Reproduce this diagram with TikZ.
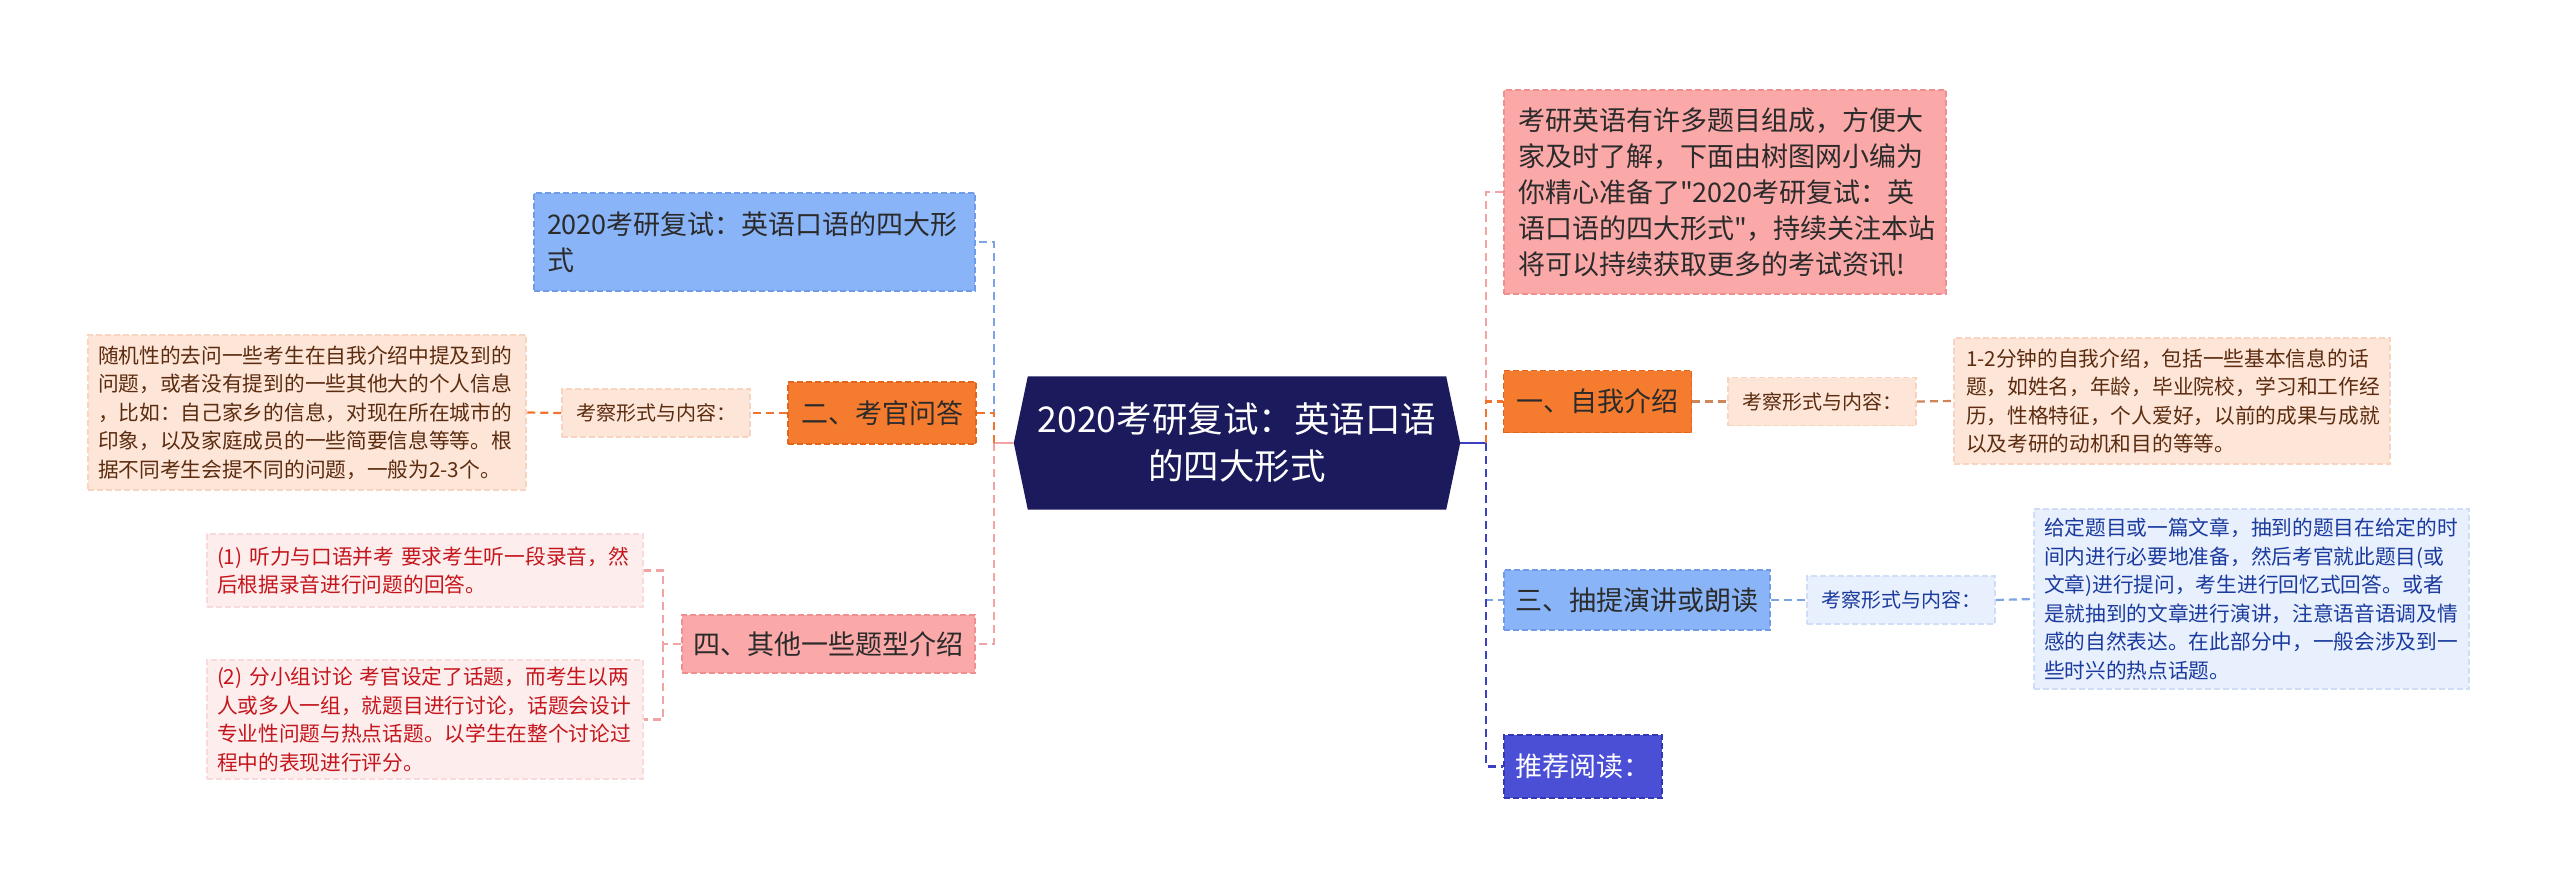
\documentclass[tikz,border=0pt]{standalone}
\usepackage{fontspec}
\setmainfont{Noto Sans CJK SC}[Ligatures=TeXOff]
\usetikzlibrary{backgrounds}
\definecolor{navyF}{HTML}{1B1A5C}
\definecolor{blueF}{HTML}{8AB4F8}
\definecolor{blueD}{HTML}{6F9BE8}
\definecolor{orangeF}{HTML}{F57C2F}
\definecolor{orangeD}{HTML}{E2651C}
\definecolor{pinkF}{HTML}{FAA8A8}
\definecolor{pinkD}{HTML}{F08F8F}
\definecolor{peachF}{HTML}{FDE5D8}
\definecolor{peachD}{HTML}{F8D4C0}
\definecolor{lpinkF}{HTML}{FDEDED}
\definecolor{lpinkD}{HTML}{F8DADA}
\definecolor{lblueF}{HTML}{E8F0FD}
\definecolor{lblueD}{HTML}{D0DDF6}
\definecolor{purpF}{HTML}{4A4FD6}
\definecolor{purpD}{HTML}{3538B4}
\definecolor{darkT}{HTML}{2B2B2B}
\definecolor{brownT}{HTML}{5B2C0F}
\definecolor{redT}{HTML}{C4161C}
\definecolor{blueT}{HTML}{1A3A9E}
\definecolor{cOrange}{HTML}{EE7430}
\definecolor{cBrown}{HTML}{CF8558}
\definecolor{cBlue}{HTML}{7EA2E6}
\definecolor{cPink}{HTML}{F2A3A3}
\definecolor{cPurp}{HTML}{3D3FC2}
\newcommand\fontcenter{\fontsize{35.5}{47}\selectfont}
\newcommand\fontlvl{\fontsize{27}{36}\selectfont}
\newcommand\fontlab{\fontsize{20}{26}\selectfont}
\newcommand\fontdet{\fontsize{20.7}{28.5}\selectfont}
\begin{document}
\begin{tikzpicture}[x=1pt,y=-1pt,
  boxd/.style={draw, dash pattern=on 6pt off 3pt, line width=1.5pt, inner ysep=0pt},
  lvl/.style={boxd, font=\fontlvl, text=darkT, align=center},
  labl/.style={boxd, font=\fontlab, text=brownT, align=center, minimum width=188pt, minimum height=48pt},
  det/.style={boxd, font=\fontdet, align=left, inner xsep=10pt},
  conn/.style={line width=2.2pt, dash pattern=on 8pt off 5pt},
  stub/.style={line width=2.2pt}
]
\useasboundingbox (0,0) rectangle (2560,887);

% center
\node[text=white, font=\fontcenter, align=center, minimum width=446pt, minimum height=133pt, inner sep=0pt] (c) at (1237,443) {2020考研复试：英语口语\\的四大形式};
\begin{pgfonlayer}{background}
\fill[navyF] ([xshift=14pt]c.north west) -- ([xshift=-14pt]c.north east) -- (c.east) -- ([xshift=-14pt]c.south east) -- ([xshift=14pt]c.south west) -- (c.west) -- cycle;
\end{pgfonlayer}

% left side
\node[lvl, fill=blueF, draw=blueD, align=left, text width=415pt, inner xsep=13pt, minimum height=98pt] (nB) at (754.5,242) {2020考研复试：英语口语的四大形\\式};
\node[lvl, fill=orangeF, draw=orangeD, minimum width=188pt, minimum height=62pt, inner xsep=0pt] (n2) at (882,413) {二、考官问答};
\node[labl, fill=peachF, draw=peachD] (k2) at (656,413) {考察形式与内容：};
\node[det, fill=peachF, draw=peachD, text=brownT, text width=418pt, minimum height=155pt] (d2) at (307,412.5) {随机性的去问一些考生在自我介绍中提及到的\\问题，或者没有提到的一些其他大的个人信息\\，比如：自己家乡的信息，对现在所在城市的\\印象，以及家庭成员的一些简要信息等等。根\\据不同考生会提不同的问题，一般为2-3个。};
\node[lvl, fill=pinkF, draw=pinkD, minimum width=293pt, minimum height=58pt, inner xsep=0pt] (n4) at (828.5,644) {四、其他一些题型介绍};
\node[det, fill=lpinkF, draw=lpinkD, text=redT, text width=416pt, minimum height=73pt] (p1) at (425,570.5) {(1) 听力与口语并考 要求考生听一段录音，然\\后根据录音进行问题的回答。};
\node[det, fill=lpinkF, draw=lpinkD, text=redT, text width=416pt, minimum height=119pt] (p2) at (425,719.5) {(2) 分小组讨论 考官设定了话题，而考生以两\\人或多人一组，就题目进行讨论，话题会设计\\专业性问题与热点话题。以学生在整个讨论过\\程中的表现进行评分。};

% right side
\node[lvl, fill=pinkF, draw=pinkD, align=left, text width=414pt, inner xsep=14pt, minimum height=204pt] (t) at (1725,192) {考研英语有许多题目组成，方便大\\家及时了解，下面由树图网小编为\\你精心准备了"2020考研复试：英\\语口语的四大形式"，持续关注本站\\将可以持续获取更多的考试资讯!};
\node[lvl, fill=orangeF, draw=orangeD, minimum width=188pt, minimum height=62pt, inner xsep=0pt] (n1) at (1597.5,401.5) {一、自我介绍};
\node[labl, fill=peachF, draw=peachD] (k1) at (1822,401.5) {考察形式与内容：};
\node[det, fill=peachF, draw=peachD, text=brownT, text width=412pt, inner xsep=12pt, minimum height=126pt] (d1) at (2172,401) {1-2分钟的自我介绍，包括一些基本信息的话\\题，如姓名，年龄，毕业院校，学习和工作经\\历，性格特征，个人爱好，以前的成果与成就\\以及考研的动机和目的等等。};
\node[lvl, fill=blueF, draw=blueD, minimum width=266pt, minimum height=60pt, inner xsep=0pt] (n3) at (1637,600) {三、抽提演讲或朗读};
\node[labl, fill=lblueF, draw=lblueD, text=blueT] (k3) at (1901,600) {考察形式与内容：};
\node[det, fill=lblueF, draw=lblueD, text=blueT, text width=415pt, minimum height=180pt] (d3) at (2251.5,599) {给定题目或一篇文章，抽到的题目在给定的时\\间内进行必要地准备，然后考官就此题目(或\\文章)进行提问，考生进行回忆式回答。或者\\是就抽到的文章进行演讲，注意语音语调及情\\感的自然表达。在此部分中，一般会涉及到一\\些时兴的热点话题。};
\node[lvl, fill=purpF, draw=purpD, text=white, minimum width=158pt, minimum height=63pt, inner xsep=0pt] (n5) at (1583,766.5) {推荐阅读：};

% trunks
\coordinate (lt) at (994,443);
\coordinate (rt) at (1486,443);
\coordinate (bk) at (663,644);

\draw[stub, cPink] (c.west) -- (lt);
\draw[conn, cBlue] (lt) |- (nB.east);
\draw[conn, cOrange] (lt) |- (n2.east);
\draw[conn, cPink] (lt) |- (n4.east);
\draw[conn, cOrange] (n2.west) -- (k2.east);
\draw[conn, cOrange] (k2.west) -- (d2.east);
\draw[conn, cPink] (n4.west) -- (bk) |- (p1.east);
\draw[conn, cPink] (bk) |- (p2.east);

\draw[stub, cPurp] (c.east) -- (rt);
\draw[conn, cPink] (rt) |- (t.west);
\draw[conn, cOrange] (rt) |- (n1.west);
\draw[conn, cBlue] (rt) |- (n3.west);
\draw[conn, cPurp] (rt) |- (n5.west);
\draw[conn, cBrown] (n1.east) -- (k1.west);
\draw[conn, cBrown] (k1.east) -- (d1.west);
\draw[conn, cBlue] (n3.east) -- (k3.west);
\draw[conn, cBlue] (k3.east) -- (d3.west);
\end{tikzpicture}
\end{document}
